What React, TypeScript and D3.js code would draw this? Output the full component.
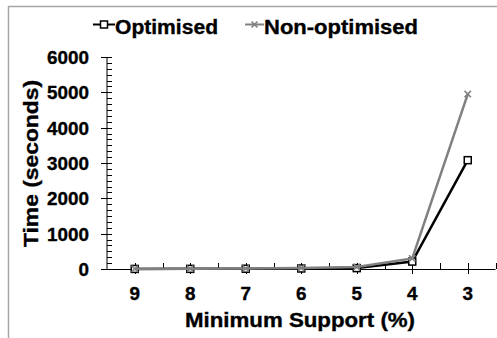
import React from "react";
import * as d3 from "d3";

const categories = ["9", "8", "7", "6", "5", "4", "3"];
const optimised = [2, 4, 8, 15, 25, 210, 3080];
const nonOptimised = [5, 8, 15, 30, 55, 300, 4950];
const yTicks = [0, 1000, 2000, 3000, 4000, 5000, 6000];

const W = 497;
const H = 338;
const font = "Arial, 'Liberation Sans', sans-serif";

export default function App() {
  const x0 = 107, x1 = 495.5, yTop = 57, yBot = 269;
  const x = d3.scaleBand<string>().domain(categories).range([x0, x1]).padding(0);
  const cx = (c: string) => (x(c) as number) + x.bandwidth() / 2;
  const y = d3.scaleLinear().domain([0, 6000]).range([yBot, yTop]);

  const line = d3
    .line<number>()
    .x((_, i) => cx(categories[i]))
    .y((d) => y(d));

  const minor: number[] = [];
  for (let k = 0; k < 6; k++) {
    for (let j = 1; j < 6; j++) minor.push(k * 1000 + (j * 1000) / 6);
  }

  const boundaries = categories.map((c) => (x(c) as number) + x.bandwidth());

  const square = (px: number, py: number, key: string) => (
    <rect key={key} x={px - 3.5} y={py - 3.5} width={7} height={7} fill="#fff" stroke="#000" strokeWidth={1.5} />
  );
  const cross = (px: number, py: number, key: string, s = 3.2) => (
    <g key={key} stroke="#808080" strokeWidth={1.6}>
      <line x1={px - s} y1={py - s} x2={px + s} y2={py + s} />
      <line x1={px - s} y1={py + s} x2={px + s} y2={py - s} />
    </g>
  );

  const txt = { fill: "#000", stroke: "#000", strokeWidth: 0.35 };

  return (
    <svg width={W} height={H} style={{ position: "absolute", left: 0, top: 0, background: "#fff" }} fontFamily={font} fontWeight="bold">
      <rect x={0} y={0} width={W} height={H} fill="#fff" />
      {/* frame */}
      <line x1={8} y1={6.5} x2={W} y2={6.5} stroke="#a6a6a6" strokeWidth={1.5} />
      <line x1={8.5} y1={6} x2={8.5} y2={H} stroke="#a6a6a6" strokeWidth={1.5} />

      {/* legend */}
      <line x1={93} y1={24.5} x2={115} y2={24.5} stroke="#000" strokeWidth={2} />
      {square(104, 24.5, "lsq")}
      <text x={115} y={33.5} fontSize={20} textLength={103} lengthAdjust="spacingAndGlyphs" {...txt}>Optimised</text>
      <line x1={245} y1={24.5} x2={264} y2={24.5} stroke="#808080" strokeWidth={2} />
      {cross(254.5, 24.5, "lx", 3)}
      <text x={264} y={33.5} fontSize={20} textLength={154} lengthAdjust="spacingAndGlyphs" {...txt}>Non-optimised</text>

      {/* y axis */}
      <line x1={x0} y1={yTop} x2={x0} y2={yBot} stroke="#000" strokeWidth={1} />
      {minor.map((v, i) => (
        <line key={"mn" + i} x1={x0} x2={x0 + 5} y1={Math.round(y(v)) + 0.5} y2={Math.round(y(v)) + 0.5} stroke="#000" strokeWidth={1} />
      ))}
      {yTicks.map((v) => (
        <g key={"yt" + v}>
          <line x1={x0 - 6} x2={x0 + 5} y1={Math.round(y(v)) + 0.5} y2={Math.round(y(v)) + 0.5} stroke="#000" strokeWidth={1} />
          <text x={89} y={y(v) + 7} fontSize={19} textAnchor="end" textLength={10.5 * String(v).length} lengthAdjust="spacingAndGlyphs" {...txt}>
            {v}
          </text>
        </g>
      ))}

      {/* x axis */}
      <line x1={x0} y1={yBot + 0.5} x2={x1} y2={yBot + 0.5} stroke="#000" strokeWidth={1} />
      {boundaries.map((b, i) => (
        <line key={"b" + i} x1={Math.round(b) + 0.5} x2={Math.round(b) + 0.5} y1={yBot - 6} y2={yBot} stroke="#000" strokeWidth={1} />
      ))}
      {categories.map((c) => (
        <g key={"c" + c}>
          <line x1={Math.round(cx(c)) + 0.5} x2={Math.round(cx(c)) + 0.5} y1={yBot - 6} y2={yBot + 5} stroke="#000" strokeWidth={1} />
          <text x={cx(c)} y={299.5} fontSize={19} textAnchor="middle" textLength={10.5} lengthAdjust="spacingAndGlyphs" {...txt}>
            {c}
          </text>
        </g>
      ))}

      {/* axis titles */}
      <text x={300} y={326.5} fontSize={20} textAnchor="middle" textLength={230} lengthAdjust="spacingAndGlyphs" {...txt}>
        Minimum Support (%)
      </text>
      <text transform={`translate(37.5,163.5) rotate(-90)`} x={0} y={0} fontSize={20} textAnchor="middle" textLength={167} lengthAdjust="spacingAndGlyphs" {...txt}>
        Time (seconds)
      </text>

      {/* series */}
      <path d={line(optimised) as string} fill="none" stroke="#000" strokeWidth={2.5} />
      {optimised.map((v, i) => square(cx(categories[i]), y(v), "s" + i))}
      <path d={line(nonOptimised) as string} fill="none" stroke="#808080" strokeWidth={2.5} />
      {nonOptimised.map((v, i) => cross(cx(categories[i]), y(v), "x" + i))}
    </svg>
  );
}
